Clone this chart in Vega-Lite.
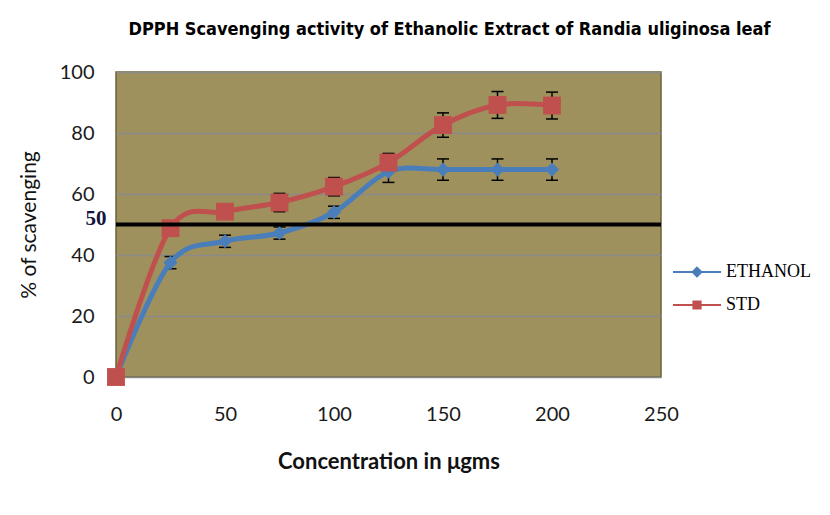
{
  "$schema": "https://vega.github.io/schema/vega-lite/v6.json",
  "autosize": "none",
  "width": 545,
  "height": 305,
  "padding": {"left": 116, "top": 72, "right": 169, "bottom": 138},
  "background": "white",
  "title": {
    "text": "DPPH  Scavenging activity of Ethanolic Extract of Randia uliginosa leaf",
    "font": "DejaVu Sans Condensed, Liberation Sans Narrow, DejaVu Sans, sans-serif",
    "fontSize": 18,
    "fontWeight": "bold",
    "color": "#000000",
    "anchor": "middle",
    "frame": "group",
    "baseline": "alphabetic",
    "offset": 9,
    "dx": 61
  },
  "datasets": {
    "scav": [
      {"series": "ETHANOL", "conc": 0, "pct": 0, "lo": 0, "hi": 0},
      {"series": "ETHANOL", "conc": 25, "pct": 37.5, "lo": 35.5, "hi": 39.5},
      {"series": "ETHANOL", "conc": 50, "pct": 44.5, "lo": 42.5, "hi": 46.5},
      {"series": "ETHANOL", "conc": 75, "pct": 47.2, "lo": 45.2, "hi": 49.2},
      {"series": "ETHANOL", "conc": 100, "pct": 54, "lo": 52, "hi": 56},
      {"series": "ETHANOL", "conc": 125, "pct": 67.3, "lo": 63.8, "hi": 70.8},
      {"series": "ETHANOL", "conc": 150, "pct": 68, "lo": 64.5, "hi": 71.5},
      {"series": "ETHANOL", "conc": 175, "pct": 68, "lo": 64.5, "hi": 71.5},
      {"series": "ETHANOL", "conc": 200, "pct": 68, "lo": 64.5, "hi": 71.5},
      {"series": "STD", "conc": 0, "pct": 0, "lo": 0, "hi": 0},
      {"series": "STD", "conc": 25, "pct": 48.8, "lo": 47.3, "hi": 50.3},
      {"series": "STD", "conc": 50, "pct": 54.2, "lo": 52.2, "hi": 56.2},
      {"series": "STD", "conc": 75, "pct": 57.2, "lo": 54.2, "hi": 60.2},
      {"series": "STD", "conc": 100, "pct": 62.4, "lo": 59.4, "hi": 65.4},
      {"series": "STD", "conc": 125, "pct": 70.3, "lo": 67.3, "hi": 73.3},
      {"series": "STD", "conc": 150, "pct": 82.6, "lo": 78.6, "hi": 86.6},
      {"series": "STD", "conc": 175, "pct": 89.2, "lo": 84.8, "hi": 93.6},
      {"series": "STD", "conc": 200, "pct": 89, "lo": 84.6, "hi": 93.4}
    ],
    "ref": [{"level": 50}]
  },
  "encoding": {
    "x": {
      "field": "conc",
      "type": "quantitative",
      "scale": {"domain": [0, 250], "nice": false},
      "axis": {
        "values": [0, 50, 100, 150, 200, 250],
        "title": "Concentration in μgms",
        "titleFont": "Lato",
        "titleFontSize": 22,
        "titleFontWeight": "bold",
        "titleColor": "#111111",
        "titlePadding": 27,
        "labelPadding": 27,
        "labelFlush": false,
        "grid": false
      }
    }
  },
  "layer": [
    {
      "encoding": {
        "y": {
          "field": "pct",
          "type": "quantitative",
          "scale": {"domain": [0, 100], "nice": false},
          "axis": {
            "values": [0, 20, 40, 60, 80, 100],
            "title": "% of scavenging",
            "titleFont": "Lato",
            "titleFontSize": 21,
            "titleFontWeight": "normal",
            "titleColor": "#111111",
            "titlePadding": 20,
            "labelPadding": 22,
            "labelFlush": false,
            "grid": true,
            "gridColor": "#8a8a8a",
            "gridWidth": 1.3
          }
        }
      },
      "layer": [
        {
          "data": {"name": "scav"},
          "mark": {"type": "rule", "color": "#000000", "strokeWidth": 1.5},
          "encoding": {"y": {"field": "lo", "type": "quantitative"}, "y2": {"field": "hi"}}
        },
        {
          "data": {"name": "scav"},
          "mark": {"type": "tick", "orient": "horizontal", "color": "#000000", "size": 12, "thickness": 1.5, "opacity": 1},
          "encoding": {"y": {"field": "lo", "type": "quantitative"}}
        },
        {
          "data": {"name": "scav"},
          "mark": {"type": "tick", "orient": "horizontal", "color": "#000000", "size": 12, "thickness": 1.5, "opacity": 1},
          "encoding": {"y": {"field": "hi", "type": "quantitative"}}
        },
        {
          "data": {"name": "scav"},
          "transform": [{"filter": "datum.series === 'ETHANOL'"}],
          "mark": {"type": "line", "color": "#4a7ebb", "strokeWidth": 5, "interpolate": "cardinal"},
          "encoding": {}
        },
        {
          "data": {"name": "scav"},
          "transform": [{"filter": "datum.series === 'ETHANOL'"}],
          "mark": {"type": "point", "filled": true, "shape": "diamond", "size": 200, "color": "#4a7ebb", "opacity": 1},
          "encoding": {}
        },
        {
          "data": {"name": "scav"},
          "transform": [{"filter": "datum.series === 'STD'"}],
          "mark": {"type": "line", "color": "#c0504d", "strokeWidth": 5, "interpolate": "cardinal"},
          "encoding": {}
        },
        {
          "data": {"name": "scav"},
          "transform": [{"filter": "datum.series === 'STD'"}],
          "mark": {"type": "point", "filled": true, "shape": "square", "size": 320, "color": "#c0504d", "opacity": 1},
          "encoding": {}
        },
        {
          "data": {"name": "scav"},
          "transform": [{"filter": "false"}],
          "mark": {"type": "point", "filled": true, "opacity": 1},
          "encoding": {
            "shape": {
              "field": "series", "type": "nominal",
              "scale": {"domain": ["ETHANOL", "STD"], "range": ["M-3,0H3M0,-0.55L0.55,0L0,0.55L-0.55,0Z", "M-3,0H3M-0.45,-0.45H0.45V0.45H-0.45Z"]},
              "legend": {"title": null, "orient": "none", "legendX": 572, "legendY": 191}
            },
            "fill": {
              "field": "series", "type": "nominal",
              "scale": {"domain": ["ETHANOL", "STD"], "range": ["#4a7ebb", "#c0504d"]},
              "legend": {"title": null, "orient": "none", "legendX": 572, "legendY": 191}
            },
            "stroke": {
              "field": "series", "type": "nominal",
              "scale": {"domain": ["ETHANOL", "STD"], "range": ["#4a7ebb", "#c0504d"]},
              "legend": {"title": null, "orient": "none", "legendX": 572, "legendY": 191}
            }
          }
        }
      ]
    },
    {
      "data": {"name": "ref"},
      "mark": {"type": "rule", "color": "#000000", "strokeWidth": 4},
      "encoding": {
        "x": null,
        "y": {
          "field": "level",
          "type": "quantitative",
          "axis": {
            "orient": "left",
            "values": [50],
            "title": null,
            "grid": false,
            "labelFont": "Liberation Serif",
            "labelFontSize": 21,
            "labelFontWeight": "bold",
            "labelColor": "#14143c",
            "labelBaseline": "alphabetic",
            "labelPadding": 10,
            "labelFlush": false
          }
        }
      }
    }
  ],
  "resolve": {"axis": {"y": "independent"}},
  "config": {
    "view": {"fill": "#9f915d", "stroke": "#6b6138", "strokeWidth": 1.5},
    "axis": {
      "domain": false,
      "ticks": false,
      "labelFont": "Lato",
      "labelFontSize": 20,
      "labelColor": "#1a1a1a"
    },
    "legend": {
      "symbolSize": 256,
      "symbolStrokeWidth": 2,
      "labelFont": "Liberation Serif",
      "labelFontSize": 18,
      "labelColor": "#000000",
      "labelOffset": 20,
      "rowPadding": 15,
      "padding": 0
    }
  }
}
